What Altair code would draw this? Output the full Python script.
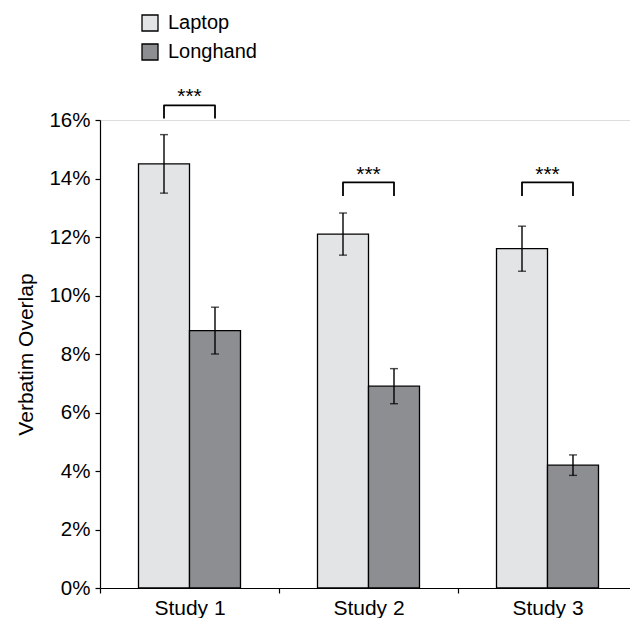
import altair as alt
import pandas as pd

studies = ["Study 1", "Study 2", "Study 3"]
groups = ["Laptop", "Longhand"]
laptop = [14.5, 12.1, 11.6]
laptop_err = [1.0, 0.72, 0.77]
longhand = [8.8, 6.9, 4.2]
longhand_err = [0.8, 0.6, 0.35]
bracket_top = [16.5, 13.87, 13.87]
bracket_leg = [16.05, 13.4, 13.4]
star_y = [16.88, 14.22, 14.22]
stars = ["***", "***", "***"]

FONT = "Liberation Sans"

rows = []
for i, s in enumerate(studies):
    rows.append({"study": s, "group": "Laptop", "value": laptop[i],
                 "lo": laptop[i] - laptop_err[i], "hi": laptop[i] + laptop_err[i]})
    rows.append({"study": s, "group": "Longhand", "value": longhand[i],
                 "lo": longhand[i] - longhand_err[i], "hi": longhand[i] + longhand_err[i]})
df = pd.DataFrame(rows)

brows = []
for i, s in enumerate(studies):
    brows += [
        {"study": s, "group": "Laptop", "y": bracket_leg[i], "o": 0},
        {"study": s, "group": "Laptop", "y": bracket_top[i], "o": 1},
        {"study": s, "group": "Longhand", "y": bracket_top[i], "o": 2},
        {"study": s, "group": "Longhand", "y": bracket_leg[i], "o": 3},
    ]
bdf = pd.DataFrame(brows)
sdf = pd.DataFrame({"study": studies, "y": star_y, "label": stars})

xscale = alt.Scale(domain=studies, paddingInner=0, paddingOuter=0)
xoff = alt.Scale(domain=groups, paddingInner=0, paddingOuter=0.755)
yscale = alt.Scale(domain=[0, 16], nice=False)

x = alt.X("study:N", scale=xscale, title=None, sort=studies,
          axis=alt.Axis(tickBand="extent", labelAngle=0, labelFontSize=21,
                        labelFont=FONT, labelColor="black", tickSize=5,
                        labelPadding=4, domainColor="black", tickColor="black",
                        domainWidth=1.2, tickWidth=1.2))
xo = alt.XOffset("group:N", scale=xoff, sort=groups)

bars = alt.Chart(df).mark_bar(stroke="black", strokeWidth=1.3).encode(
    x=x,
    xOffset=xo,
    y=alt.Y("value:Q", scale=yscale, title="Verbatim Overlap",
            axis=alt.Axis(values=[0, 2, 4, 6, 8, 10, 12, 14, 16],
                          labelExpr="datum.value + '%'", grid=False,
                          labelFontSize=20.5, labelFont=FONT, labelColor="black",
                          tickSize=5, labelPadding=5, domainColor="black",
                          tickColor="black", domainWidth=1.2, tickWidth=1.2,
                          titleFontSize=21, titleFont=FONT, titleFontWeight="normal",
                          titleColor="black", titlePadding=12)),
    color=alt.Color("group:N", scale=alt.Scale(domain=groups, range=["#e3e4e6", "#8d8e91"]),
                    legend=alt.Legend(title=None, orient="none", legendX=40, legendY=-107,
                                      symbolType="square", symbolSize=256,
                                      symbolStrokeColor="black", symbolStrokeWidth=1.3,
                                      labelFontSize=20, labelFont=FONT, labelColor="black",
                                      labelOffset=8, rowPadding=7)),
)

err = alt.Chart(df).mark_rule(color="black", strokeWidth=1.4).encode(
    x=alt.X("study:N", scale=xscale, sort=studies),
    xOffset=xo,
    y=alt.Y("lo:Q", scale=yscale),
    y2="hi:Q",
)
caps_lo = alt.Chart(df).mark_tick(color="black", size=8, thickness=1.4, orient="horizontal").encode(
    x=alt.X("study:N", scale=xscale, sort=studies),
    xOffset=xo,
    y=alt.Y("lo:Q", scale=yscale),
)
caps_hi = alt.Chart(df).mark_tick(color="black", size=8, thickness=1.4, orient="horizontal").encode(
    x=alt.X("study:N", scale=xscale, sort=studies),
    xOffset=xo,
    y=alt.Y("hi:Q", scale=yscale),
)

brackets = alt.Chart(bdf).mark_line(color="black", strokeWidth=1.8, strokeJoin="round").encode(
    x=alt.X("study:N", scale=xscale, sort=studies),
    xOffset=xo,
    y=alt.Y("y:Q", scale=yscale),
    detail="study:N",
    order="o:Q",
)

star_text = alt.Chart(sdf).mark_text(fontSize=21, font=FONT, color="black", baseline="middle", dy=3).encode(
    x=alt.X("study:N", scale=xscale, sort=studies),
    y=alt.Y("y:Q", scale=yscale),
    text="label:N",
)

chart = alt.layer(bars, err, caps_lo, caps_hi, brackets, star_text).properties(
    width=537, height=468,
    autosize=alt.AutoSizeParams(type="none"),
    padding={"left": 92, "top": 112, "right": -7, "bottom": 30},
).configure_view(stroke=None).configure(background="white")

chart.save("out.html", embed_options={"renderer": "svg", "actions": False})
